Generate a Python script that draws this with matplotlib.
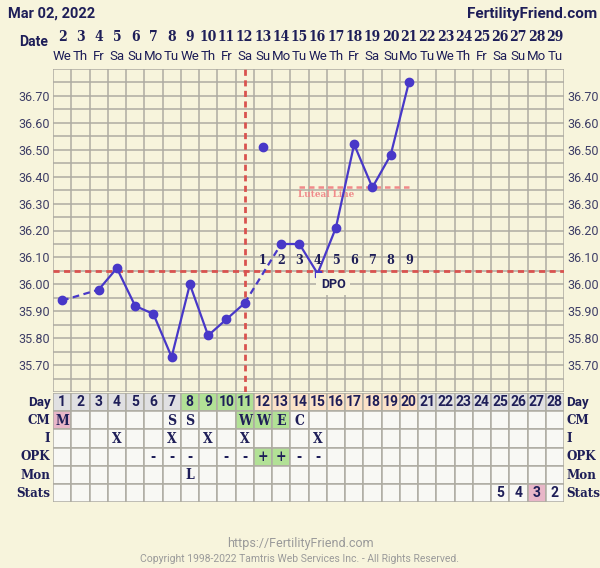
import matplotlib
matplotlib.use("Agg")
import matplotlib.pyplot as plt
import matplotlib.transforms as mtransforms
from matplotlib.patches import Rectangle
import numpy as np

# ---- data ----
cycle_days = list(range(1, 29))
dates = list(range(2, 30))
weekdays = ["We", "Th", "Fr", "Sa", "Su", "Mo", "Tu"] * 4

temp_days = [1, 3, 4, 5, 6, 7, 8, 9, 10, 11, 13, 14, 15, 16, 17, 18, 19, 20]
temps = [35.94, 35.98, 36.06, 35.92, 35.89, 35.73, 36.00, 35.81, 35.87, 35.93,
         36.15, 36.15, 36.04, 36.21, 36.52, 36.36, 36.48, 36.75]
discarded_day, discarded_temp = 12, 36.51

coverline = 36.05
ovulation_day = 11
luteal_days = (14, 20)
luteal_temp = 36.36
dpo_days = list(range(12, 21))

cm = {1: "M", 7: "S", 8: "S", 11: "W", 12: "W", 13: "E", 14: "C"}
intercourse = {4: "X", 7: "X", 9: "X", 11: "X", 15: "X"}
opk = {6: "-", 7: "-", 8: "-", 10: "-", 11: "-", 12: "+", 13: "+", 14: "-", 15: "-"}
mon = {8: "L"}
stats = {25: "5", 26: "4", 27: "3", 28: "2"}

# ---- styles ----
BG = "#f7f4dc"
CELL = "#f8f8f4"
GRID = "#aeaca2"
NAVY = "#1e1e58"
TICK = "#3d3d66"
LINE = "#4838c8"
RED = "#d9534f"
PINK = "#e8b6c8"
GREEN = "#b2e196"
PEACH = "#fbe2c8"
GRAY = "#e0e0e2"
SANS = "Roboto"
SLAB = dict(family="DejaVu Serif", fontstretch="condensed", fontweight="bold")

W, H = 600, 568
fig = plt.figure(figsize=(W / 100, H / 100), dpi=100, facecolor=BG)


def fx(x):
    return x / W


def fy(y):
    return 1 - y / H


left, right = 53, 564
ax = fig.add_axes([fx(left), fy(392), fx(right - left), (392 - 69) / H])
ax.set_facecolor(BG)
ax.set_xlim(0.5, 28.5)
ax.set_ylim(35.60, 36.80)
for s in ax.spines.values():
    s.set_visible(False)
ax.set_xticks([])

for xv in np.arange(0.5, 29, 1):
    ax.axvline(xv, color=GRID, lw=1.1, zorder=1)
for yv in np.arange(35.60, 36.81, 0.05):
    ax.axhline(yv, color=GRID, lw=1.1, zorder=1)

yt = np.round(np.arange(35.70, 36.71, 0.10), 2)
ax.set_yticks(yt)
ax.set_yticklabels([f"{v:.2f}" for v in yt])
ax.tick_params(axis="y", length=0, pad=2.5, labelleft=True, labelright=True,
               labelsize=9, labelcolor=TICK)
for lab in ax.get_yticklabels():
    lab.set_fontfamily(SANS)

# coverline, ovulation line, luteal line
ax.axhline(coverline, color=RED, lw=2, ls=(0, (2.2, 1.6)), zorder=3)
ax.axvline(ovulation_day, color=RED, lw=2, ls=(0, (2.2, 1.6)), zorder=3)
ax.plot(luteal_days, [luteal_temp] * 2, color="#f08a8a", lw=1.8,
        ls=(0, (2.2, 1.6)), zorder=3)
ax.text(luteal_days[0] - 0.1, luteal_temp - 0.025, "Luteal Line", color="#f08a8a",
        fontsize=7, va="center", ha="left", zorder=4, **SLAB)

# temperature line: solid for consecutive days, dashed across gaps
for i in range(len(temp_days) - 1):
    d0, d1 = temp_days[i], temp_days[i + 1]
    ls = "-" if d1 - d0 == 1 else (0, (3, 2))
    ax.plot([d0, d1], [temps[i], temps[i + 1]], color=LINE, lw=1.6, ls=ls, zorder=5)
marks = [("s", 4.5) if d == 15 else ("o", 6) for d in temp_days]
for d, t, (m, ms) in zip(temp_days, temps, marks):
    ax.plot(d, t, marker=m, ms=ms, color=LINE, zorder=6)
ax.plot(discarded_day, discarded_temp, marker="o", ms=6, color=LINE, zorder=6)

for n, d in enumerate(dpo_days, start=1):
    ax.text(d, 36.09, str(n), ha="center", va="center", fontsize=9,
            color=NAVY, zorder=7, **SLAB)
ax.text(15.85, 36.0, "DPO", ha="center", va="center", fontsize=9, fontweight="bold",
        family=SANS, color=NAVY, zorder=7,
        bbox=dict(boxstyle="square,pad=0.35", fc=BG, ec="none"))

# header
fig.text(fx(8), fy(14), "Mar 02, 2022", fontsize=10.5, fontweight="bold",
         family=SANS, color=NAVY, va="center", ha="left")
fig.text(fx(597), fy(14), "FertilityFriend.com", fontsize=11, fontweight="bold",
         family=SANS, color=NAVY, va="center", ha="right")
fig.text(fx(48), fy(42), "Date", fontsize=10, fontweight="bold", family=SANS,
         color=NAVY, va="center", ha="right")
top = mtransforms.blended_transform_factory(ax.transData, fig.transFigure)
for c, d, wd in zip(cycle_days, dates, weekdays):
    ax.text(c, fy(37), str(d), transform=top, ha="center", va="center",
            fontsize=10, color=NAVY, **SLAB)
    ax.text(c, fy(56), wd, transform=top, ha="center", va="center",
            fontsize=9.5, family=SANS, color=NAVY)

# chart table
tab = fig.add_axes([fx(left), fy(502), fx(right - left), (502 - 393) / H])
tab.set_xlim(0.5, 28.5)
tab.set_ylim(6, 0)
tab.axis("off")
row_labels = ["Day", "CM", "I", "OPK", "Mon", "Stats"]
rows = [None, cm, intercourse, opk, mon, stats]
for r, (name, vals) in enumerate(zip(row_labels, rows)):
    for c in cycle_days:
        fc = CELL
        if r == 0:
            fc = GREEN if 8 <= c <= 11 else PEACH if 12 <= c <= 20 else GRAY
            txt = str(c)
        else:
            txt = vals.get(c, "")
        if (r == 1 and c == 1) or (r == 5 and c == 27):
            fc = PINK
        if (r == 1 and 11 <= c <= 13) or (r == 3 and txt == "+"):
            fc = GREEN
        tab.add_patch(Rectangle((c - 0.5, r), 1, 1, fc=fc, ec=GRID, lw=1.1))
        if txt:
            if r in (0, 5):
                style = dict(family=SANS, fontweight="bold")
            else:
                style = SLAB
            tab.text(c, r + 0.52, txt, ha="center", va="center", fontsize=10,
                     color=NAVY, **style)
    style = dict(family=SANS, fontweight="bold") if name == "Day" else SLAB
    tab.text(0.36, r + 0.52, name, ha="right", va="center", fontsize=9.5,
             color=NAVY, **style)
    tab.text(28.62, r + 0.52, name, ha="left", va="center", fontsize=9.5,
             color=NAVY, **style)

# footer
fig.text(0.5, fy(544), "https://FertilityFriend.com", ha="center", va="center",
         fontsize=9, family=SANS, color="#9a9a9a")
fig.text(0.5, fy(559), "Copyright 1998-2022 Tamtris Web Services Inc. - All Rights Reserved.",
         ha="center", va="center", fontsize=7.5, family=SANS, color="#9a9a9a")

fig.savefig("out.png", dpi=100, facecolor=BG)
